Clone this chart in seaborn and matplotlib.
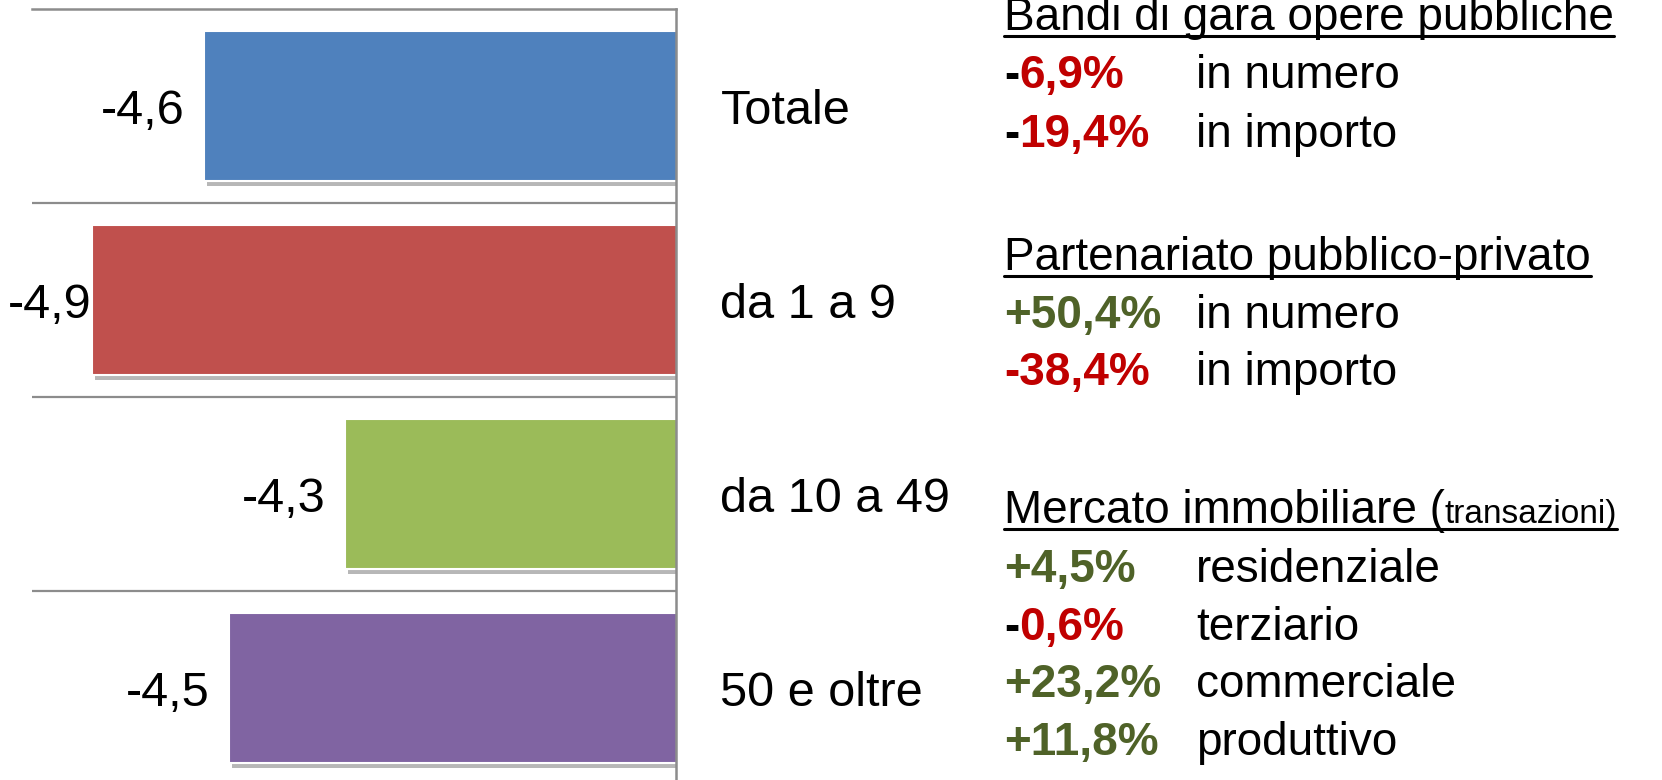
import matplotlib
matplotlib.use("Agg")
import matplotlib.pyplot as plt
import matplotlib.patheffects as pe
from matplotlib.lines import Line2D
import seaborn as sns

# bar chart data (variation %, axis runs from -5 to -3.5)
categories = ["Totale", "da 1 a 9", "da 10 a 49", "50 e oltre"]
values = [-4.60, -4.86, -4.27, -4.54]
bar_colors = ["#4F81BD", "#C0504D", "#9BBB59", "#8064A2"]

# right hand text block
headers = ["Bandi di gara opere pubbliche", "Partenariato pubblico-privato", "Mercato immobiliare ("]
header_small = "transazioni)"
bandi_changes = [[("-", "black"), ("6,9%", "#C00000")], [("-", "black"), ("19,4%", "#C00000")]]
bandi_desc = ["in numero", "in importo"]
ppp_changes = [[("+50,4%", "#4F6228")], [("-38,4%", "#C00000")]]
ppp_desc = ["in numero", "in importo"]
mercato_changes = [[("+4,5%", "#4F6228")], [("-", "black"), ("0,6%", "#C00000")],
                   [("+23,2%", "#4F6228")], [("+11,8%", "#4F6228")]]
mercato_desc = ["residenziale", "terziario", "commerciale", "produttivo"]

W, H = 1662, 780
font = ["Liberation Sans", "DejaVu Sans"]

sns.set_style("white")
plt.rcParams["font.family"] = font
plt.rcParams["text.color"] = "black"
plt.rcParams["ytick.color"] = "black"

fig = plt.figure(figsize=(W / 100, H / 100), dpi=100)
ax = fig.add_axes([32 / W, -5 / H, 644 / W, 776 / H])

sns.barplot(x=values, y=categories, hue=categories, palette=bar_colors, legend=False,
            orient="h", width=0.77, edgecolor="white", linewidth=1.5, saturation=1, ax=ax)

for p in ax.patches:
    p.set_path_effects([pe.SimplePatchShadow(offset=(2, -4), shadow_rgbFace="#707070", alpha=0.5),
                        pe.Normal()])

ax.set_xlim(-5, -3.5)
ax.set_ylim(3.5, -0.5)
ax.set_xlabel("")
ax.set_ylabel("")
ax.set_xticks([])

# category gridlines between bars
for b in [0.5, 1.5, 2.5]:
    ax.axhline(b, color="#8C8C8C", lw=1.6, zorder=0)

for s in ["left", "bottom"]:
    ax.spines[s].set_visible(False)
for s in ["top", "right"]:
    ax.spines[s].set_color("#8C8C8C")
    ax.spines[s].set_linewidth(1.8)

ax.yaxis.tick_right()
ax.tick_params(axis="y", length=0, pad=32, labelsize=35, labelcolor="black")

fig.canvas.draw()
renderer = fig.canvas.get_renderer()

for c in ax.containers:
    labels = [f"{v:.1f}".replace(".", ",") for v in c.datavalues]
    anns = ax.bar_label(c, labels=labels, padding=14, fontsize=35, color="black")
    for a in anns:
        a.set_va("center_baseline")
        x0 = a.get_window_extent(renderer).x0
        if x0 < 8:
            a.xyann = (a.xyann[0] + (8 - x0) * 72 / 100, a.xyann[1])


def put(x_px, base_px, pieces, size=33, weight="normal"):
    for txt, col in pieces:
        t = fig.text(x_px / W, 1 - base_px / H, txt, color=col, fontsize=size,
                     fontweight=weight, va="baseline", ha="left")
        x_px = t.get_window_extent(renderer).x1
    return x_px


def underline(x0, x1, base_px):
    y = 1 - (base_px + 5.5) / H
    fig.add_artist(Line2D([x0 / W, x1 / W], [y, y], color="black", lw=2.2,
                          transform=fig.transFigure))


x_left, x_desc = 1004, 1196

x_end = put(x_left, 30, [(headers[0], "black")])
underline(x_left, x_end, 30)
for base, ch, d in zip([88, 147], bandi_changes, bandi_desc):
    put(x_left, base, ch, weight="bold")
    put(x_desc, base, [(d, "black")])

x_end = put(x_left, 270, [(headers[1], "black")])
underline(x_left, x_end, 270)
for base, ch, d in zip([328, 385], ppp_changes, ppp_desc):
    put(x_left, base, ch, weight="bold")
    put(x_desc, base, [(d, "black")])

x_mid = put(x_left, 523, [(headers[2], "black")])
x_end = put(x_mid, 523, [(header_small, "black")], size=24)
underline(x_left, x_end, 523)
for base, ch, d in zip([582, 640, 697, 755], mercato_changes, mercato_desc):
    put(x_left, base, ch, weight="bold")
    put(x_desc, base, [(d, "black")])

fig.savefig("out.png", dpi=100)
